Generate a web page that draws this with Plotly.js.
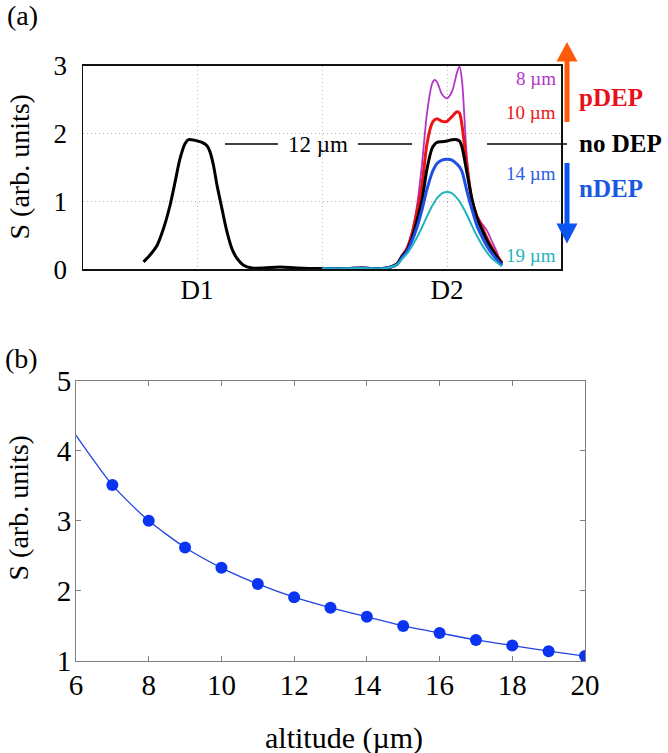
<!DOCTYPE html>
<html>
<head>
<meta charset="utf-8">
<script src="https://cdn.plot.ly/plotly-3.0.1.min.js"></script>
<style>html,body{margin:0;padding:0;background:#fff;}#chart{width:668px;height:753px;}</style>
</head>
<body>
<div id="chart"></div>
<script>
// ---------- Panel (a) data ----------
const d1X = [14.3, 15.6, 17, 18.3, 19.6, 20.6, 21.6, 22.6, 23.3, 24.6, 26, 27, 27.6, 28.3, 29, 30, 31, 32, 33, 34.3, 36, 38.3, 41.6, 45, 50];
const d1S12 = [0.11, 0.21, 0.35, 0.60, 0.94, 1.28, 1.63, 1.85, 1.91, 1.90, 1.87, 1.82, 1.73, 1.53, 1.24, 0.89, 0.55, 0.30, 0.16, 0.06, 0.02, 0.02, 0.035, 0.02, 0.01];
const d2X = [50, 55, 58, 60, 63, 65, 66, 67, 68, 69, 70, 71, 72, 72.5, 73, 74, 75, 76, 77, 77.5, 78, 79, 80, 81, 82, 83, 84, 85, 86];
const s8  = [0.01,0.01,0.025,0.01,0.02,0.08, 0.20,0.33,0.55,0.94,1.55, 2.30,2.73,2.79,2.76,2.58, 2.52,2.62,2.90,2.99,2.78, 1.63,1.04,0.79,0.67,0.57, 0.41,0.25,0.06];
const s10 = [0.01,0.01,0.02,0.01,0.02,0.08, 0.20,0.30,0.52,0.85,1.25, 1.85,2.15,2.20,2.22,2.18, 2.18,2.25,2.32,2.30,2.12, 1.52,1.02,0.78,0.62,0.46, 0.32,0.20,0.10];
const s12 = [0.01,0.01,0.02,0.01,0.02,0.08, 0.19,0.28,0.46,0.72,1.02, 1.48,1.78,1.84,1.87,1.88, 1.89,1.91,1.91,1.89,1.80, 1.42,1.03,0.76,0.58,0.42, 0.29,0.18,0.08];
const s14 = [0.01,0.01,0.02,0.01,0.02,0.07, 0.17,0.26,0.42,0.62,0.88, 1.18,1.42,1.50,1.56,1.61, 1.62,1.61,1.55,1.51,1.44, 1.15,0.88,0.64,0.48,0.34, 0.23,0.14,0.06];
const s19 = [0.01,0.01,0.02,0.01,0.02,0.07, 0.15,0.23,0.34,0.47,0.62, 0.78,0.93,0.99,1.05,1.12, 1.14,1.12,1.05,1.00,0.94, 0.80,0.64,0.49,0.36,0.25, 0.16,0.10,0.04];
const detTicks = [25, 50, 75];
const detLabels = ['D1', '', 'D2'];
const sTicksA = [0, 1, 2, 3];

// ---------- Panel (b) data ----------
const altitude = [6, 7, 8, 9, 10, 11, 12, 13, 14, 15, 16, 17, 18, 19, 20];
const signal   = [4.22, 3.51, 3.00, 2.62, 2.33, 2.10, 1.91, 1.76, 1.63, 1.50, 1.40, 1.30, 1.22, 1.14, 1.07];

// ---------- helpers (pixel -> paper) ----------
const W = 668, H = 753;
const fx = p => p / W;
const fy = p => 1 - p / H;
const SERIF = 'Liberation Serif, Times New Roman, serif';

const C8 = '#b236c6', C10 = '#ec1515', C12 = '#000000', C14 = '#1f50e4', C19 = '#22b4bd';

const traces = [
  {x: d2X, y: s8,  xaxis:'x', yaxis:'y', mode:'lines', line:{color:C8,  width:1.8, shape:'spline', smoothing:0.8}, name:'8 µm'},
  {x: d2X, y: s10, xaxis:'x', yaxis:'y', mode:'lines', line:{color:C10, width:3, shape:'spline', smoothing:0.8}, name:'10 µm'},
  {x: d1X.concat(d2X.slice(1)), y: d1S12.concat(s12.slice(1)), xaxis:'x', yaxis:'y', mode:'lines', line:{color:C12, width:3, shape:'spline', smoothing:0.8}, name:'12 µm'},
  {x: d2X, y: s14, xaxis:'x', yaxis:'y', mode:'lines', line:{color:C14, width:3, shape:'spline', smoothing:0.8}, name:'14 µm'},
  {x: d2X, y: s19, xaxis:'x', yaxis:'y', mode:'lines', line:{color:C19, width:2, shape:'spline', smoothing:0.8}, name:'19 µm'},
  {x: altitude, y: signal, xaxis:'x2', yaxis:'y2', mode:'lines', line:{color:'#2244e0', width:1.3, shape:'spline', smoothing:0.6}, name:'fit'},
  {x: altitude.slice(1), y: signal.slice(1), xaxis:'x2', yaxis:'y2', mode:'markers', marker:{color:'#0a34f2', size:12}, name:'S'}
];

function ann(text, px, py, opts) {
  return Object.assign({
    text: text, xref:'paper', yref:'paper', x: fx(px), y: fy(py),
    xanchor:'center', yanchor:'middle', showarrow:false,
    font:{family:SERIF, size:23, color:'#000'}
  }, opts || {});
}

const annotations = [
  ann('(a)', 5, 16, {xanchor:'left', font:{family:SERIF, size:28, color:'#000'}}),
  ann('(b)', 3, 358, {xanchor:'left', font:{family:SERIF, size:28, color:'#000'}}),
  ann('S (arb. units)', 1, 167, {xanchor:'left', textangle:-90, font:{family:SERIF, size:28, color:'#000'}}),
  ann('S (arb. units)', 1, 508, {xanchor:'left', textangle:-90, font:{family:SERIF, size:28, color:'#000'}}),
  ann('altitude (µm)', 344, 738, {font:{family:SERIF, size:30, color:'#000'}}),
  ann('12 µm', 318, 144, {font:{family:SERIF, size:23, color:'#000'}}),
  ann('8 µm', 558, 78, {xanchor:'right', font:{family:SERIF, size:19, color:C8}}),
  ann('10 µm', 558, 113, {xanchor:'right', font:{family:SERIF, size:19, color:C10}}),
  ann('14 µm', 558, 173, {xanchor:'right', font:{family:SERIF, size:19, color:'#2a5ee6'}}),
  ann('19 µm', 558, 256, {xanchor:'right', font:{family:SERIF, size:19, color:C19}}),
  ann('<b>pDEP</b>', 577, 97, {xanchor:'left', font:{family:SERIF, size:25, color:'#e8101a'}}),
  ann('<b>no DEP</b>', 577, 143, {xanchor:'left', font:{family:SERIF, size:25, color:'#000'}}),
  ann('<b>nDEP</b>', 577, 188, {xanchor:'left', font:{family:SERIF, size:25, color:'#1a58e2'}})
];

function hline(x0, x1, py) {
  return {type:'line', xref:'paper', yref:'paper', x0:fx(x0), x1:fx(x1), y0:fy(py), y1:fy(py), line:{color:'#000', width:1.3}};
}
function tri(tipx, tipy, basey, half, color) {
  return {type:'path', xref:'paper', yref:'paper',
    path:'M ' + fx(tipx) + ',' + fy(tipy) + ' L ' + fx(tipx - half) + ',' + fy(basey) + ' L ' + fx(tipx + half) + ',' + fy(basey) + ' Z',
    fillcolor: color, line:{width:0}};
}
const ORANGE = '#ff5a0a', BLUEARR = '#0a55f0';
const shapes = [
  hline(225, 278, 144), hline(358, 412, 144), hline(487, 567, 144),
  {type:'line', xref:'paper', yref:'paper', x0:fx(567), x1:fx(567), y0:fy(122), y1:fy(58), line:{color:ORANGE, width:5}},
  tri(567, 42, 61.5, 10.5, ORANGE),
  {type:'line', xref:'paper', yref:'paper', x0:fx(567), x1:fx(567), y0:fy(163), y1:fy(227), line:{color:BLUEARR, width:5}},
  tri(567, 243.5, 223.5, 10.5, BLUEARR)
];

const layout = {
  width: W, height: H,
  margin:{l:0, r:0, t:0, b:0},
  paper_bgcolor:'#fff', plot_bgcolor:'#fff',
  showlegend:false,
  font:{family:SERIF, color:'#000'},
  xaxis:{
    domain:[fx(83), fx(561)], range:[2.2, 97.8], anchor:'y',
    tickmode:'array', tickvals: detTicks, ticktext: detLabels,
    showgrid:true, gridcolor:'#b8b8b8', griddash:'1px,3px', gridwidth:1,
    zeroline:false, showline:true, mirror:true, linecolor:'#111', linewidth:1.5,
    ticks:'', ticklabelstandoff:-4, tickfont:{family:SERIF, size:27, color:'#000'}
  },
  yaxis:{
    domain:[fy(269.3), fy(65.7)], range:[0, 3], anchor:'x',
    tickmode:'array', tickvals: sTicksA,
    showgrid:true, gridcolor:'#b8b8b8', griddash:'1px,3px', gridwidth:1,
    zeroline:false, showline:true, mirror:true, linecolor:'#111', linewidth:1.5,
    ticks:'', ticklabelstandoff:9, tickfont:{family:SERIF, size:27, color:'#000'}
  },
  xaxis2:{
    domain:[fx(76), fx(585)], range:[6, 20], anchor:'y2', dtick:2, tick0:6,
    showgrid:false, zeroline:false, showline:true, mirror:'ticks', linecolor:'#808080', linewidth:1,
    ticks:'inside', ticklen:5, tickcolor:'#808080', ticklabelstandoff:-2,
    tickfont:{family:SERIF, size:29, color:'#000'}
  },
  yaxis2:{
    domain:[fy(661), fy(380.7)], range:[1, 5], anchor:'x2', dtick:1, tick0:1,
    showgrid:false, zeroline:false, showline:true, mirror:'ticks', linecolor:'#808080', linewidth:1,
    ticks:'inside', ticklen:5, tickcolor:'#808080', ticklabelstandoff:-2,
    tickfont:{family:SERIF, size:29, color:'#000'}
  },
  annotations: annotations,
  shapes: shapes
};

Plotly.newPlot('chart', traces, layout, {displayModeBar:false, staticPlot:true});
</script>
</body>
</html>
